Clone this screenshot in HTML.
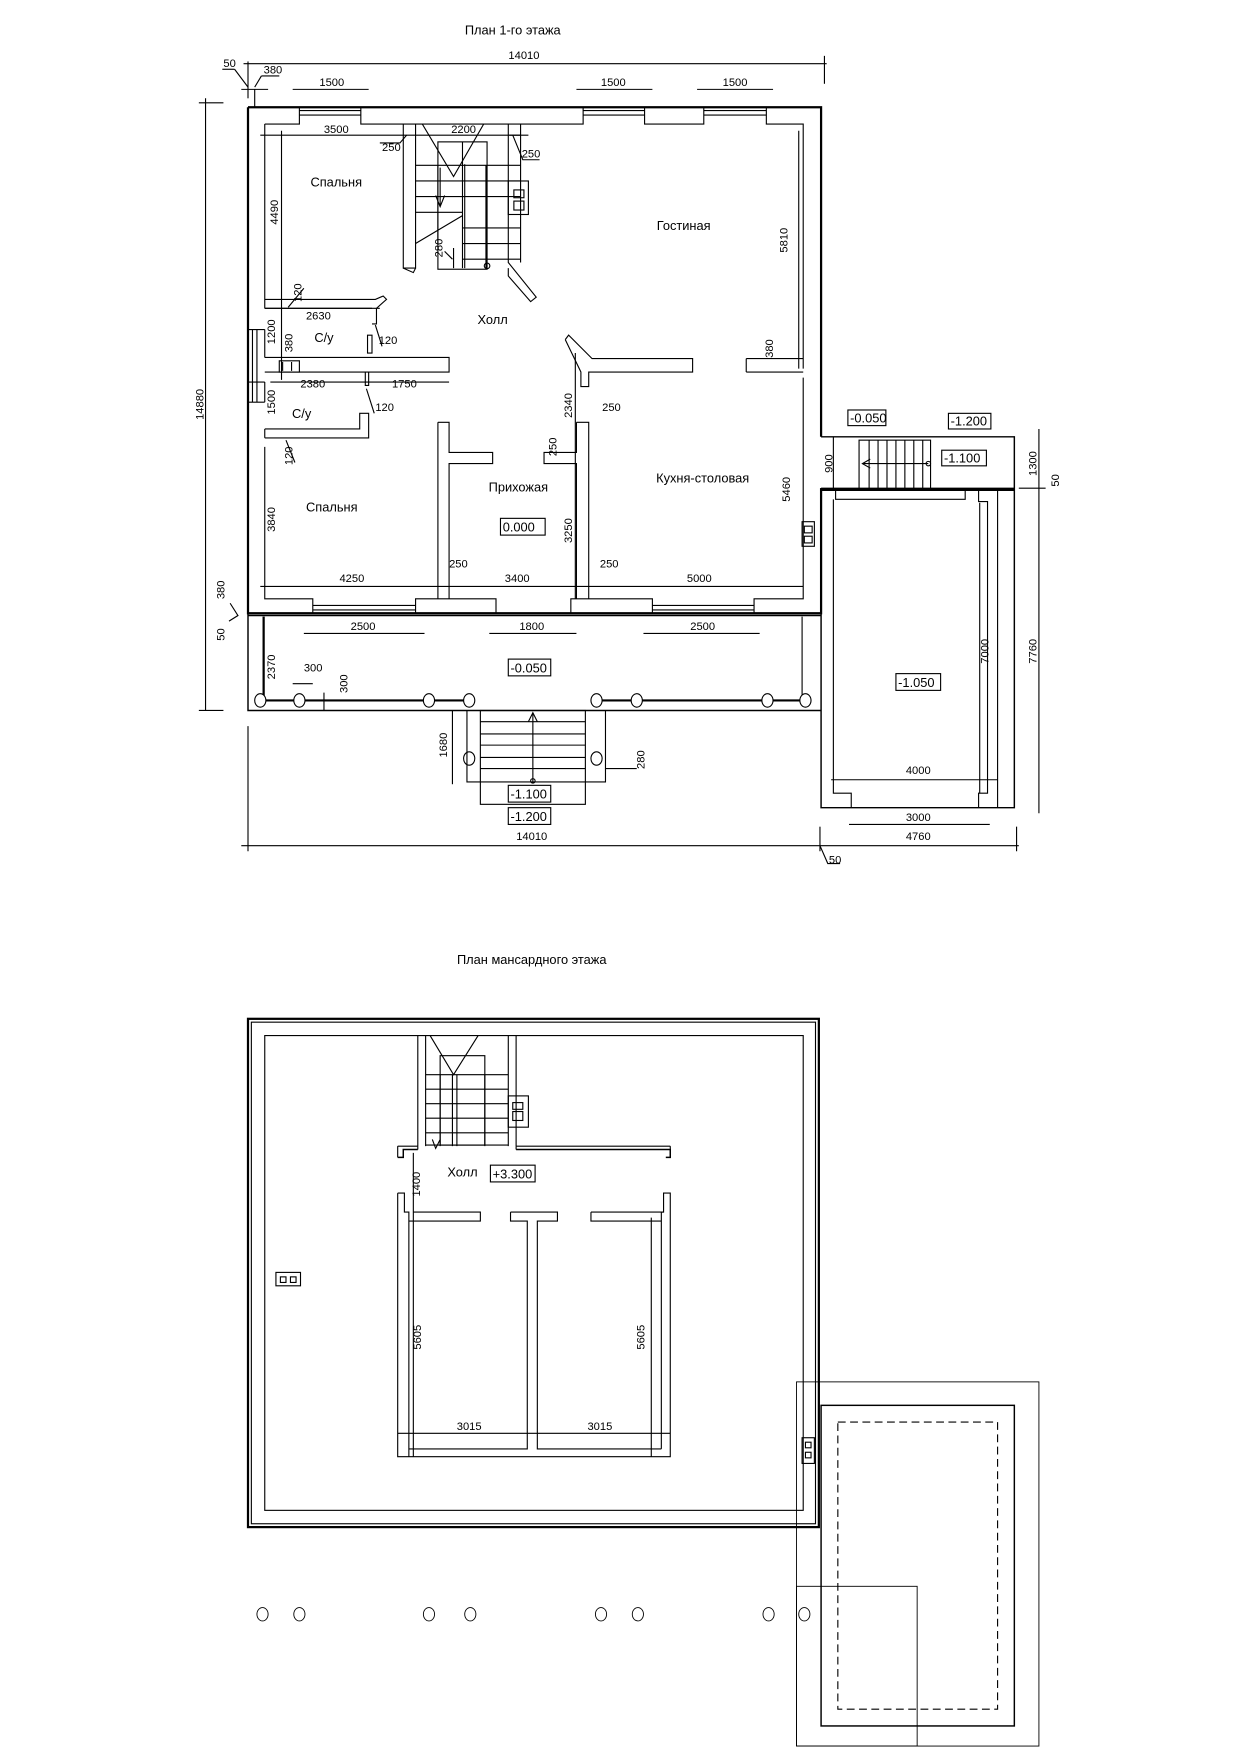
<!DOCTYPE html>
<html><head><meta charset="utf-8"><style>
html,body{margin:0;padding:0;background:#fff;width:1240px;height:1755px;overflow:hidden}
svg{display:block}
text{font-family:"Liberation Sans",sans-serif;fill:#000}
.d{font-size:10px}
.l{font-size:11.5px}
</style></head><body>
<svg width="1240" height="1755" viewBox="0 0 1110 1571" xmlns="http://www.w3.org/2000/svg">
<g fill="none" stroke="#000" stroke-width="1">
<text x="459" y="31" class="l" text-anchor="middle" stroke="none">План 1-го этажа</text>
<line x1="218" y1="57" x2="740" y2="57"/><text x="469" y="53" class="d" text-anchor="middle" stroke="none">14010</text>
<line x1="738" y1="50" x2="738" y2="75"/><line x1="222" y1="55" x2="222" y2="88"/>
<line x1="199" y1="62" x2="210" y2="62"/><line x1="210" y1="62" x2="222" y2="78"/><text x="200" y="60" class="d" stroke="none">50</text>
<line x1="228" y1="78" x2="234" y2="68"/><line x1="234" y1="68" x2="250" y2="68"/><text x="236" y="66" class="d" stroke="none">380</text>
<line x1="216" y1="80" x2="240" y2="80"/><line x1="228" y1="80" x2="228" y2="96"/>
<line x1="262" y1="80" x2="330" y2="80"/><text x="297" y="77" class="d" text-anchor="middle" stroke="none">1500</text>
<line x1="516" y1="80" x2="584" y2="80"/><text x="549" y="77" class="d" text-anchor="middle" stroke="none">1500</text>
<line x1="624" y1="80" x2="692" y2="80"/><text x="658" y="77" class="d" text-anchor="middle" stroke="none">1500</text>
<path d="M222 96 H735 V391 M735 437 V549 H222 V96" stroke-width="2"/>
<path d="M237 111 H268 V96 M323 96 V111 H522 V96 M577 96 V111 H630 V96 M686 96 V111 H719 V330 M719 338 V536 H675 V549 M584 549 V536 H511 V549 M444 549 V536 H372 V549 M280 549 V536 H237 V400 M237 392 V384"/>
<path d="M268 99 H323 M268 103 H323 M522 99 H577 M522 103 H577 M630 99 H686 M630 103 H686"/>
<path d="M280 542 H372 M280 546 H372 M584 542 H675 M584 546 H675"/>
<path d="M237 111 V276 M237 295 V320 M237 342 V360 M222 295 H237 M222 342 H237 M222 360 H237 M226 295 V360 M230 295 V360"/>
<path d="M361 111 V240 H372 V111 M455 111 V235 L480 266 L475 270 L455 247 V240 M466 111 V235"/>
<path d="M361 240 L370 244 L372 240"/>
<path d="M378 111 L406 158 L433 111"/>
<rect x="392" y="127" width="44" height="114"/>
<line x1="414" y1="127" x2="414" y2="240"/><line x1="416" y1="147" x2="416" y2="240"/>
<path d="M372 148 H466 M372 162 H466 M372 176 H466 M372 190 H414 M414 204 H466 M414 218 H466 M414 232 H466 M372 218 L414 193"/>
<line x1="392" y1="148" x2="392" y2="218"/><line x1="435" y1="148" x2="435" y2="240"/>
<path d="M390 175 L394 185 L398 175 M394 150 V185"/>
<circle cx="436" cy="238" r="2.5"/>
<rect x="455" y="162" width="18" height="30"/><rect x="460" y="170" width="9" height="7"/><rect x="460" y="180" width="9" height="8"/>
<path d="M237 268 H336 L343 265 L346 268 L337 276 V290 H333 M237 276 H333"/>
<path d="M237 320 H402 V333 H237 M327 333 V345 H330 V333"/>
<path d="M250 323 H268 V333 H250 Z M253 324 V332 M261 324 V332"/>
<path d="M329 300 H333 V316 H329 Z"/>
<path d="M506 304 L509 300 L530 321 H620 V333 H527 V346 H520 V333 L506 304"/>
<path d="M668 321 H719 M668 333 H719 M668 321 V333"/>
<path d="M237 384 H322 V370 H330 V392 H237"/>
<path d="M392 378 H402 V405 H441 V415 H402 V536 M392 378 V536"/>
<path d="M516 378 H527 V536 M516 378 V405 H487 V415 H516 V536"/>
<rect x="718" y="467" width="11" height="22"/><rect x="720" y="471" width="7" height="6"/><rect x="720" y="480" width="7" height="6"/>
<line x1="233" y1="121" x2="372" y2="121"/><text x="301" y="119" class="d" text-anchor="middle" stroke="none">3500</text>
<line x1="372" y1="121" x2="466" y2="121"/><text x="415" y="119" class="d" text-anchor="middle" stroke="none">2200</text>
<line x1="456" y1="121" x2="473" y2="121"/>
<path d="M340 128 H358 L364 121"/><text x="342" y="135" class="d" stroke="none">250</text>
<path d="M459 121 L468 143 H483"/><text x="467" y="141" class="d" stroke="none">250</text>
<line x1="252" y1="117" x2="252" y2="340"/><text class="d" stroke="none" transform="translate(249,190) rotate(-90)" text-anchor="middle">4490</text>
<line x1="715" y1="117" x2="715" y2="330"/><text class="d" stroke="none" transform="translate(705,215) rotate(-90)" text-anchor="middle">5810</text>
<text class="d" stroke="none" transform="translate(396,222) rotate(-90)" text-anchor="middle">280</text>
<path d="M398 225 L405 232 M406 222 V240"/>
<line x1="237" y1="276" x2="340" y2="276"/><text x="285" y="286" class="d" text-anchor="middle" stroke="none">2630</text>
<text class="d" stroke="none" transform="translate(270,262) rotate(-90)" text-anchor="middle">120</text><line x1="258" y1="275" x2="272" y2="258"/>
<text x="339" y="308" class="d" stroke="none">120</text><line x1="336" y1="291" x2="342" y2="310"/>
<text class="d" stroke="none" transform="translate(246,297) rotate(-90)" text-anchor="middle">1200</text>
<text class="d" stroke="none" transform="translate(262,307) rotate(-90)" text-anchor="middle">380</text>
<line x1="242" y1="342" x2="402" y2="342"/><text x="280" y="347" class="d" text-anchor="middle" stroke="none">2380</text><text x="362" y="347" class="d" text-anchor="middle" stroke="none">1750</text>
<text class="d" stroke="none" transform="translate(246,360) rotate(-90)" text-anchor="middle">1500</text>
<text x="336" y="368" class="d" stroke="none">120</text><line x1="328" y1="348" x2="335" y2="370"/>
<text class="d" stroke="none" transform="translate(262,408) rotate(-90)" text-anchor="middle">120</text><line x1="256" y1="394" x2="264" y2="414"/>
<text class="d" stroke="none" transform="translate(246,465) rotate(-90)" text-anchor="middle">3840</text>
<text class="d" stroke="none" transform="translate(512,363) rotate(-90)" text-anchor="middle">2340</text>
<text x="539" y="368" class="d" stroke="none">250</text>
<line x1="515" y1="316" x2="515" y2="536"/>
<text class="d" stroke="none" transform="translate(498,400) rotate(-90)" text-anchor="middle">250</text>
<text class="d" stroke="none" transform="translate(512,475) rotate(-90)" text-anchor="middle">3250</text>
<text class="d" stroke="none" transform="translate(707,438) rotate(-90)" text-anchor="middle">5460</text>
<text class="d" stroke="none" transform="translate(692,312) rotate(-90)" text-anchor="middle">380</text>
<line x1="233" y1="525" x2="719" y2="525"/>
<text x="315" y="521" class="d" text-anchor="middle" stroke="none">4250</text>
<text x="463" y="521" class="d" text-anchor="middle" stroke="none">3400</text>
<text x="626" y="521" class="d" text-anchor="middle" stroke="none">5000</text>
<text x="402" y="508" class="d" stroke="none">250</text><text x="537" y="508" class="d" stroke="none">250</text>
<text x="301" y="167" class="l" text-anchor="middle" stroke="none">Спальня</text>
<text x="612" y="206" class="l" text-anchor="middle" stroke="none">Гостиная</text>
<text x="441" y="290" class="l" text-anchor="middle" stroke="none">Холл</text>
<text x="290" y="306" class="l" text-anchor="middle" stroke="none">С/у</text>
<text x="270" y="374" class="l" text-anchor="middle" stroke="none">С/у</text>
<text x="297" y="458" class="l" text-anchor="middle" stroke="none">Спальня</text>
<text x="464" y="440" class="l" text-anchor="middle" stroke="none">Прихожая</text>
<text x="629" y="432" class="l" text-anchor="middle" stroke="none">Кухня-столовая</text>
<rect x="448" y="464" width="40" height="15"/><text x="450" y="476" class="l" stroke="none">0.000</text>
<line x1="184" y1="88" x2="184" y2="636"/><line x1="178" y1="92" x2="200" y2="92"/><line x1="178" y1="636" x2="200" y2="636"/>
<text class="d" stroke="none" transform="translate(182,362) rotate(-90)" text-anchor="middle">14880</text>
<text class="d" stroke="none" transform="translate(201,528) rotate(-90)" text-anchor="middle">380</text>
<text class="d" stroke="none" transform="translate(201,568) rotate(-90)" text-anchor="middle">50</text>
<path d="M206 540 L213 551 L205 556"/>
<path d="M222 549 H735 M222 551 H735 M222 549 V636 H735" stroke-width="1.3"/>
<line x1="236" y1="552" x2="236" y2="627" stroke-width="2"/><line x1="718" y1="552" x2="718" y2="627"/>
<path d="M233 627 H420 M534 627 H721" stroke-width="2"/>
<g fill="#fff"><ellipse cx="233" cy="627" rx="5" ry="6"/><ellipse cx="268" cy="627" rx="5" ry="6"/><ellipse cx="384" cy="627" rx="5" ry="6"/><ellipse cx="420" cy="627" rx="5" ry="6"/><ellipse cx="534" cy="627" rx="5" ry="6"/><ellipse cx="570" cy="627" rx="5" ry="6"/><ellipse cx="687" cy="627" rx="5" ry="6"/><ellipse cx="721" cy="627" rx="5" ry="6"/></g>
<line x1="272" y1="567" x2="380" y2="567"/><text x="325" y="564" class="d" text-anchor="middle" stroke="none">2500</text>
<line x1="438" y1="567" x2="516" y2="567"/><text x="476" y="564" class="d" text-anchor="middle" stroke="none">1800</text>
<line x1="576" y1="567" x2="680" y2="567"/><text x="629" y="564" class="d" text-anchor="middle" stroke="none">2500</text>
<rect x="455" y="590" width="38" height="15"/><text x="457" y="602" class="l" stroke="none">-0.050</text>
<text class="d" stroke="none" transform="translate(246,597) rotate(-90)" text-anchor="middle">2370</text>
<text x="272" y="601" class="d" stroke="none">300</text><line x1="262" y1="612" x2="280" y2="612"/>
<text class="d" stroke="none" transform="translate(311,612) rotate(-90)" text-anchor="middle">300</text><line x1="290" y1="620" x2="290" y2="636"/>
<path d="M418 636 V700 H430 M524 700 H542 V636"/>
<rect x="430" y="636" width="94" height="84"/>
<path d="M430 646 H524 M430 657 H524 M430 667 H524 M430 678 H524 M430 688 H524 M430 700 H524"/>
<line x1="477" y1="638" x2="477" y2="700"/><path d="M473 646 L477 638 L481 646"/><circle cx="477" cy="699" r="2"/>
<ellipse cx="420" cy="679" rx="5" ry="6"/><ellipse cx="534" cy="679" rx="5" ry="6"/>
<text class="d" stroke="none" transform="translate(400,667) rotate(-90)" text-anchor="middle">1680</text>
<line x1="405" y1="636" x2="405" y2="702"/>
<text class="d" stroke="none" transform="translate(577,680) rotate(-90)" text-anchor="middle">280</text><line x1="542" y1="688" x2="570" y2="688"/>
<rect x="455" y="703" width="38" height="15"/><text x="457" y="715" class="l" stroke="none">-1.100</text>
<rect x="455" y="723" width="38" height="15"/><text x="457" y="735" class="l" stroke="none">-1.200</text>
<path d="M735 391 H908 V723 H735 V437" stroke-width="1.3"/>
<line x1="735" y1="438" x2="908" y2="438" stroke-width="3"/>
<path d="M748 438 V447 H864 V438 M876 438 V449 H884 V710 H876 V723 M746 447 V710 H762 V723 M883 438 H893 V723"/>
<rect x="769" y="394" width="64" height="44"/>
<path d="M778 394 V438 M786 394 V438 M794 394 V438 M802 394 V438 M810 394 V438 M818 394 V438 M826 394 V438"/>
<line x1="773" y1="415" x2="831" y2="415"/><path d="M779 411 L772 415 L779 419"/><circle cx="831" cy="415" r="2"/>
<rect x="759" y="367" width="34" height="14"/><text x="761" y="378" class="l" stroke="none">-0.050</text>
<rect x="849" y="370" width="38" height="14"/><text x="851" y="381" class="l" stroke="none">-1.200</text>
<rect x="843" y="403" width="40" height="14"/><text x="845" y="414" class="l" stroke="none">-1.100</text>
<text class="d" stroke="none" transform="translate(745,415) rotate(-90)" text-anchor="middle">900</text><line x1="746" y1="391" x2="746" y2="438"/>
<rect x="802" y="603" width="40" height="15"/><text x="804" y="615" class="l" stroke="none">-1.050</text>
<line x1="877" y1="450" x2="877" y2="710"/><text class="d" stroke="none" transform="translate(885,583) rotate(-90)" text-anchor="middle">7000</text>
<line x1="744" y1="698" x2="893" y2="698"/><text x="822" y="693" class="d" text-anchor="middle" stroke="none">4000</text>
<line x1="760" y1="738" x2="886" y2="738"/><text x="822" y="735" class="d" text-anchor="middle" stroke="none">3000</text>
<line x1="930" y1="384" x2="930" y2="728"/><text class="d" stroke="none" transform="translate(928,583) rotate(-90)" text-anchor="middle">7760</text>
<text class="d" stroke="none" transform="translate(928,415) rotate(-90)" text-anchor="middle">1300</text>
<text class="d" stroke="none" transform="translate(948,430) rotate(-90)" text-anchor="middle">50</text>
<line x1="912" y1="437" x2="936" y2="437"/>
<line x1="216" y1="757" x2="734" y2="757"/><text x="476" y="752" class="d" text-anchor="middle" stroke="none">14010</text>
<line x1="222" y1="650" x2="222" y2="762"/><line x1="734" y1="740" x2="734" y2="762"/>
<line x1="734" y1="757" x2="912" y2="757"/><text x="822" y="752" class="d" text-anchor="middle" stroke="none">4760</text>
<line x1="910" y1="740" x2="910" y2="762"/>
<path d="M734 757 L741 773 H752"/><text x="742" y="773" class="d" stroke="none">50</text>

<text x="476" y="863" class="l" text-anchor="middle" stroke="none">План мансардного этажа</text>
<rect x="222" y="912" width="511" height="455" stroke-width="2"/>
<rect x="225" y="915" width="505" height="449"/>
<rect x="237" y="927" width="482" height="425"/>
<path d="M374 927 V1026 M381 927 V1026 M455 927 V1026 M462 927 V1026"/>
<path d="M385 927 L406 962 L428 927"/>
<rect x="394" y="945" width="40" height="80"/>
<path d="M381 962 H455 M381 975 H455 M381 988 H455 M381 1001 H455 M381 1014 H455 M381 1025 H455 M405 962 V1026 M409 962 V1026 M394 962 V1026 M434 962 V1026"/>
<path d="M387 1020 L390 1028 L394 1020"/>
<rect x="455" y="981" width="18" height="28"/><rect x="459" y="987" width="9" height="6"/><rect x="459" y="995" width="9" height="8"/>
<path d="M356 1036 H361 V1029 H374 M462 1029 H600 V1036 H596" stroke-width="1.3"/>
<path d="M356 1026 V1036 M600 1026 V1036 M374 1026 V1029 M462 1026 V1029"/>
<path d="M356 1026 H374 M462 1026 H600"/>
<line x1="370" y1="1032" x2="370" y2="1304"/>
<text class="d" stroke="none" transform="translate(376,1060) rotate(-90)" text-anchor="middle">1400</text>
<text x="414" y="1053" class="l" text-anchor="middle" stroke="none">Холл</text>
<rect x="439" y="1043" width="40" height="15"/><text x="441" y="1055" class="l" stroke="none">+3.300</text>
<path d="M356 1068 H362 V1085 H366 V1304 M356 1068 V1304 H600 V1068 H594 V1085 H592 V1297"/>
<path d="M370 1085 H430 V1093 H370 M366 1093 H370"/>
<path d="M457 1085 H499 V1093 H481 V1297 H592 M457 1085 V1093 H472 V1297 H366"/>
<path d="M529 1085 H594 M529 1085 V1093 H592"/>
<line x1="356" y1="1283" x2="600" y2="1283"/>
<line x1="583" y1="1090" x2="583" y2="1304"/>
<text class="d" stroke="none" transform="translate(377,1197) rotate(-90)" text-anchor="middle">5605</text>
<text class="d" stroke="none" transform="translate(577,1197) rotate(-90)" text-anchor="middle">5605</text>
<text x="420" y="1280" class="d" text-anchor="middle" stroke="none">3015</text>
<text x="537" y="1280" class="d" text-anchor="middle" stroke="none">3015</text>
<rect x="247" y="1139" width="22" height="12"/><rect x="251" y="1143" width="5" height="5"/><rect x="260" y="1143" width="5" height="5"/>
<rect x="718" y="1287" width="11" height="23"/><rect x="721" y="1291" width="5" height="5"/><rect x="721" y="1300" width="5" height="5"/>
<rect x="713" y="1237" width="217" height="326" stroke-width="0.8"/>
<rect x="735" y="1258" width="173" height="287" stroke-width="1.3"/>
<rect x="750" y="1273" width="143" height="257" stroke-dasharray="7,4"/>
<rect x="713" y="1420" width="108" height="143" stroke-width="0.8"/>
<g stroke-width="0.8"><ellipse cx="235" cy="1445" rx="5" ry="6"/><ellipse cx="268" cy="1445" rx="5" ry="6"/><ellipse cx="384" cy="1445" rx="5" ry="6"/><ellipse cx="421" cy="1445" rx="5" ry="6"/><ellipse cx="538" cy="1445" rx="5" ry="6"/><ellipse cx="571" cy="1445" rx="5" ry="6"/><ellipse cx="688" cy="1445" rx="5" ry="6"/><ellipse cx="720" cy="1445" rx="5" ry="6"/></g>
</g>
</svg>
</body></html>
